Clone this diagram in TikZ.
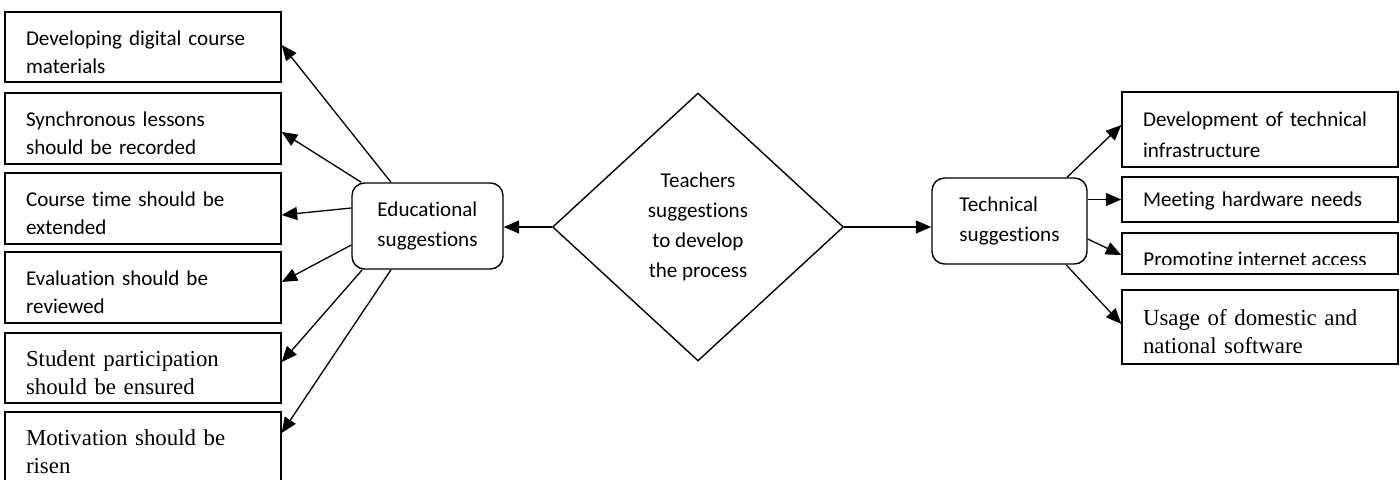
\documentclass[tikz,border=0pt]{standalone}
\usepackage{fontspec}
\setmainfont[Ligatures=NoCommon]{Carlito}
\newfontfamily\bookfont{Liberation Serif}
\usetikzlibrary{positioning,arrows.meta,shapes.geometric}
\tikzset{
  flow/.style={-{Triangle[length=3.1mm,width=2.6mm]},line width=0.75pt,draw=black},
  itembox/.style={draw=black,line width=0.8pt,text width=4.68cm,inner xsep=0.42cm,
    align=left,text height=0.5cm,font=\fontsize{12pt}{16pt}\selectfont},
  serifbox/.style={itembox,font=\bookfont\fontsize{13pt}{15.5pt}\selectfont},
  groupbox/.style={draw=black,line width=0.8pt,rounded corners=0.25cm,
    minimum height=1.72cm,align=left,font=\fontsize{12pt}{17pt}\selectfont},
  decision/.style={diamond,draw=black,line width=0.8pt,inner sep=0pt,
    minimum width=5.82cm,minimum height=5.36cm,align=center,
    font=\fontsize{12pt}{17pt}\selectfont}
}

\begin{document}
\begin{tikzpicture}[x=0.02cm,y=-0.02cm]
  \useasboundingbox (0,0) rectangle (1400,480);

  % centre
  \node[decision] (dia) at (698,227) {Teachers\\suggestions\\to develop\\the process};
  \node[groupbox,minimum width=3.02cm] (edu) at (427.5,226) {Educational\\suggestions};
  \node[groupbox,minimum width=3.1cm] (tech) at (1009.5,221) {Technical\\suggestions};
  \draw[flow] (dia.west) -- (dia.west -| edu.east);
  \draw[flow] (dia.east) -- (dia.east -| tech.west);

  % educational side
  \node[itembox,minimum height=1.4cm] (e1) at (143,47) {Developing digital course\\materials};
  \node[itembox,minimum height=1.42cm] (e2) at (143,128.5) {Synchronous lessons\\should be recorded};
  \node[itembox,minimum height=1.42cm] (e3) at (143,208.5) {Course time should be\\extended};
  \node[itembox,minimum height=1.42cm] (e4) at (143,287.5) {Evaluation should be\\reviewed};
  \node[serifbox,minimum height=1.4cm] (e5) at (143,368) {Student participation\\should be ensured};
  \node[serifbox,minimum height=1.4cm] (e6) at (143,447) {Motivation should be\\risen};

  \draw[flow] ([xshift=-0.73cm]edu.north) -- ([yshift=0.04cm]e1.east);
  \draw[flow] ([xshift=0.2cm]edu.north west) -- ([yshift=-0.07cm]e2.east);
  \draw[flow] ([yshift=0.36cm]edu.west) -- ([yshift=-0.13cm]e3.east);
  \draw[flow] ([yshift=-0.38cm]edu.west) -- ([yshift=0.11cm]e4.east);
  \draw[flow] ([xshift=0.22cm]edu.south west) -- ([yshift=0.12cm]e5.east);
  \draw[flow] ([xshift=-0.73cm]edu.south) -- ([yshift=0.28cm]e6.east);

  % technical side
  \node[itembox,minimum height=1.5cm,font=\fontsize{12pt}{17.5pt}\selectfont] (r1) at (1260,129.5) {Development of technical\\infrastructure};
  \node[itembox,minimum height=0.9cm,text height=0.35cm] (r2) at (1260,199.5) {Meeting hardware needs};
  \node[itembox,minimum height=0.82cm] (r3) at (1260,253.5) {};
  \begin{scope}
    \clip (1122,233) rectangle (1398,264.5);
    \node[anchor=base west,inner sep=0pt,font=\fontsize{12pt}{16pt}\selectfont] (r3text)
      at (1143,266) {Promoting internet access};
  \end{scope}
  \node[serifbox,minimum height=1.48cm] (r4) at (1260,327) {Usage of domestic and\\national software};

  \draw[flow] ([xshift=1.15cm]tech.north) -- ([yshift=0.09cm]r1.west);
  \draw[flow] (tech.east |- r2.west) -- (r2.west);
  \draw[flow] ([yshift=-0.36cm]tech.east) -- ([yshift=-0.03cm]r3.west);
  \draw[flow] ([xshift=1.13cm]tech.south) -- ([yshift=0.06cm]r4.west);
\end{tikzpicture}
\end{document}
